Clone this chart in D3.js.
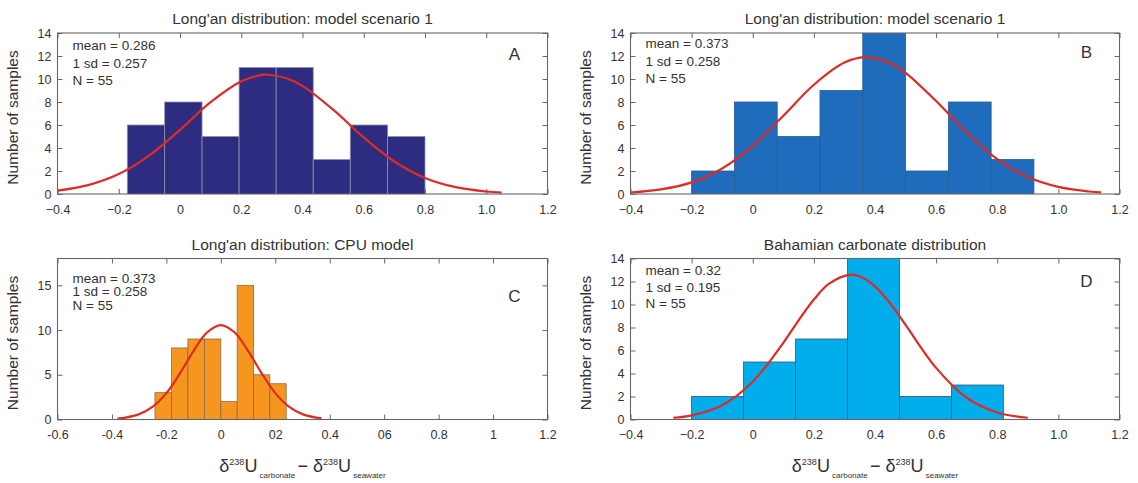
<!DOCTYPE html>
<html>
<head>
<meta charset="utf-8">
<script src="https://cdnjs.cloudflare.com/ajax/libs/d3/7.8.5/d3.min.js"></script>
<style>
body { margin: 0; background: #fff; }
svg { font-family: "Liberation Sans", Arial, Helvetica, sans-serif; }
</style>
</head>
<body>
<svg id="fig" width="1138" height="483"></svg>
<script>
// histogram bin edges and counts
var edgesA = [-0.172, -0.05, 0.072, 0.193, 0.314, 0.435, 0.556, 0.678, 0.8];
var countsA = [6, 8, 5, 11, 11, 3, 6, 5];
var edgesB = [-0.2, -0.06, 0.08, 0.22, 0.36, 0.5, 0.64, 0.78, 0.92];
var countsB = [2, 8, 5, 9, 18, 2, 8, 3];
var edgesC = [-0.242, -0.181, -0.121, -0.06, 0, 0.06, 0.12, 0.18, 0.24];
var countsC = [3, 8, 9, 9, 2, 15, 5, 4];
var edgesD = [-0.2, -0.03, 0.14, 0.31, 0.48, 0.65, 0.82];
var countsD = [2, 5, 7, 17, 2, 3];

// red fitted curves [x, count]
var curveA = [[-0.4,0.29],[-0.3,0.77],[-0.2,1.73],[-0.1,3.36],[0,5.58],[0.1,7.98],[0.2,9.8],[0.25,10.27],[0.286,10.37],
  [0.35,10.05],[0.4,9.4],[0.5,7.33],[0.6,4.92],[0.7,2.83],[0.8,1.4],[0.9,0.6],[1.0,0.22],[1.05,0.12]];
var curveB = [[-0.4,0.13],[-0.3,0.4],[-0.2,1.01],[-0.1,2.22],[0,4.19],[0.1,6.8],[0.2,9.5],[0.3,11.43],[0.373,11.9],
  [0.45,11.37],[0.5,10.54],[0.6,8.08],[0.7,5.33],[0.8,3.03],[0.9,1.48],[1.0,0.62],[1.1,0.22],[1.14,0.14]];
var curveC = [[-0.38,0.11],[-0.35,0.21],[-0.3,0.6],[-0.25,1.44],[-0.2,2.95],[-0.15,5.16],[-0.1,7.68],[-0.05,9.75],[0,10.56],
  [0.05,9.75],[0.1,7.68],[0.15,5.16],[0.2,2.95],[0.25,1.44],[0.3,0.6],[0.35,0.21],[0.37,0.14]];
var curveD = [[-0.26,0.15],[-0.2,0.36],[-0.1,1.24],[0,3.28],[0.1,6.67],[0.15,8.62],[0.2,10.43],[0.25,11.81],[0.32,12.6],
  [0.35,12.45],[0.4,11.58],[0.45,10.09],[0.5,8.23],[0.6,4.49],[0.7,1.89],[0.8,0.61],[0.9,0.15]];

// ticks and labels
var xTicksAB = [-0.4, -0.2, 0, 0.2, 0.4, 0.6, 0.8, 1.0, 1.2];
var xLabelsAB = ["\u22120.4", "\u22120.2", "0", "0.2", "0.4", "0.6", "0.8", "1.0", "1.2"];
var xTicksC = [-0.6, -0.4, -0.2, 0, 0.2, 0.4, 0.6, 0.8, 1.0, 1.2];
var xLabelsC = ["-0.6", "-0.4", "-0.2", "0", "02", "0.4", "06", "0.8", "1", "1.2"];
var yTicks14 = [0, 2, 4, 6, 8, 10, 12, 14];
var yTicksC = [0, 5, 10, 15];

var titles = ["Long'an distribution: model scenario 1", "Long'an distribution: model scenario 1",
  "Long'an distribution: CPU model", "Bahamian carbonate distribution"];
var statsA = ["mean = 0.286", "1 sd = 0.257", "N = 55"];
var statsB = ["mean = 0.373", "1 sd = 0.258", "N = 55"];
var statsC = ["mean = 0.373", "1 sd = 0.258", "N = 55"];
var statsD = ["mean = 0.32", "1 sd = 0.195", "N = 55"];
var letters = ["A", "B", "C", "D"];

var svg = d3.select("#fig");

var panels = [
  { left: 57.5, top: 33, w: 490, h: 161, xdom: [-0.4, 1.2], ymax: 14, edges: edgesA, counts: countsA, curve: curveA,
    xt: xTicksAB, xl: xLabelsAB, yt: yTicks14, fill: "#2d2c80", edge: "#8f8fa8", title: titles[0], stats: statsA, lh: 17.5, sy: 45,
    letter: letters[0], ly: 54, xlabel: false },
  { left: 630.5, top: 33, w: 489, h: 161, xdom: [-0.4, 1.2], ymax: 14, edges: edgesB, counts: countsB, curve: curveB,
    xt: xTicksAB, xl: xLabelsAB, yt: yTicks14, fill: "#1f6cbc", edge: "#275d93", title: titles[1], stats: statsB, lh: 17.5, sy: 43,
    letter: letters[1], ly: 52, xlabel: false },
  { left: 57.5, top: 258.5, w: 490, h: 161, xdom: [-0.6, 1.2], ymax: 18, edges: edgesC, counts: countsC, curve: curveC,
    xt: xTicksC, xl: xLabelsC, yt: yTicksC, fill: "#f7961f", edge: "#8a6d45", title: titles[2], stats: statsC, lh: 13.7, sy: 277.5,
    letter: letters[2], ly: 296, xlabel: true },
  { left: 630.5, top: 258.5, w: 489, h: 161, xdom: [-0.4, 1.2], ymax: 14, edges: edgesD, counts: countsD, curve: curveD,
    xt: xTicksAB, xl: xLabelsAB, yt: yTicks14, fill: "#02adec", edge: "#35576a", title: titles[3], stats: statsD, lh: 16.7, sy: 270,
    letter: letters[3], ly: 281, xlabel: true }
];

panels.forEach(function (p, i) {
  var x = d3.scaleLinear().domain(p.xdom).range([0, p.w]);
  var y = d3.scaleLinear().domain([0, p.ymax]).range([p.h, 0]);
  var g = svg.append("g").attr("transform", "translate(" + p.left + "," + p.top + ")");

  g.append("clipPath").attr("id", "clip" + i)
    .append("rect").attr("width", p.w).attr("height", p.h);

  // ticks on all four sides, pointing inward
  function styleAxis(sel) {
    sel.select(".domain").remove();
    sel.selectAll(".tick line").attr("stroke", "#666");
    sel.selectAll(".tick text").attr("fill", "#333").style("font-size", "12.5px");
  }
  g.append("g").attr("transform", "translate(0," + p.h + ")")
    .call(d3.axisBottom(x).tickValues(p.xt).tickFormat(function (d, k) { return p.xl[k]; })
      .tickSizeInner(-5).tickSizeOuter(0).tickPadding(11))
    .call(styleAxis);
  g.append("g")
    .call(d3.axisTop(x).tickValues(p.xt).tickFormat("").tickSizeInner(-5).tickSizeOuter(0))
    .call(styleAxis);
  g.append("g")
    .call(d3.axisLeft(y).tickValues(p.yt).tickSizeInner(-5).tickSizeOuter(0).tickPadding(6))
    .call(styleAxis);
  g.append("g").attr("transform", "translate(" + p.w + ",0)")
    .call(d3.axisRight(y).tickValues(p.yt).tickFormat("").tickSizeInner(-5).tickSizeOuter(0))
    .call(styleAxis);

  var bins = p.counts.map(function (c, k) { return { x0: p.edges[k], x1: p.edges[k + 1], n: c }; });
  g.append("g").attr("clip-path", "url(#clip" + i + ")")
    .selectAll("rect").data(bins).enter().append("rect")
    .attr("x", function (d) { return x(d.x0); })
    .attr("width", function (d) { return x(d.x1) - x(d.x0); })
    .attr("y", function (d) { return y(d.n); })
    .attr("height", function (d) { return p.h - y(d.n) + 1; })
    .attr("fill", p.fill)
    .attr("stroke", p.edge)
    .attr("stroke-width", 0.8);

  var line = d3.line()
    .x(function (d) { return x(d[0]); })
    .y(function (d) { return y(d[1]); })
    .curve(d3.curveCatmullRom.alpha(0.5));
  g.append("path").attr("d", line(p.curve))
    .attr("fill", "none").attr("stroke", "#dd2b26").attr("stroke-width", 2.2);

  g.append("rect").attr("width", p.w).attr("height", p.h)
    .attr("fill", "none").attr("stroke", "#666").attr("stroke-width", 1.1);

  // title
  g.append("text").attr("x", p.w / 2).attr("y", -9).attr("text-anchor", "middle")
    .attr("fill", "#333").style("font-size", "15.5px").text(p.title);

  // stats text
  g.append("g").selectAll("text").data(p.stats).enter().append("text")
    .attr("x", 15)
    .attr("y", function (d, k) { return p.sy - p.top + k * p.lh + 5; })
    .attr("fill", "#333").style("font-size", "13.5px")
    .text(function (d) { return d; });

  // panel letter
  g.append("text").attr("x", p.w - 33).attr("y", p.ly - p.top + 6).attr("text-anchor", "middle")
    .attr("fill", "#333").style("font-size", "17px").text(p.letter);

  // y label
  g.append("text").attr("transform", "translate(" + (-40) + "," + (p.h / 2 + 4) + ") rotate(-90)")
    .attr("text-anchor", "middle").attr("fill", "#333").style("font-size", "15.5px")
    .text("Number of samples");

  if (p.xlabel) {
    var t = g.append("text").attr("x", p.w / 2).attr("y", p.h + 52).attr("text-anchor", "middle")
      .attr("fill", "#333").style("font-size", "18px");
    t.append("tspan").text("\u03b4");
    t.append("tspan").attr("dy", -7).style("font-size", "9px").text("238");
    t.append("tspan").attr("dy", 7).text("U");
    t.append("tspan").attr("dy", 6).style("font-size", "8px").text(" carbonate ");
    t.append("tspan").attr("dy", -6).text(" \u2212 \u03b4");
    t.append("tspan").attr("dy", -7).style("font-size", "9px").text("238");
    t.append("tspan").attr("dy", 7).text("U");
    t.append("tspan").attr("dy", 6).style("font-size", "8px").text(" seawater");
  }
});
</script>
</body>
</html>
